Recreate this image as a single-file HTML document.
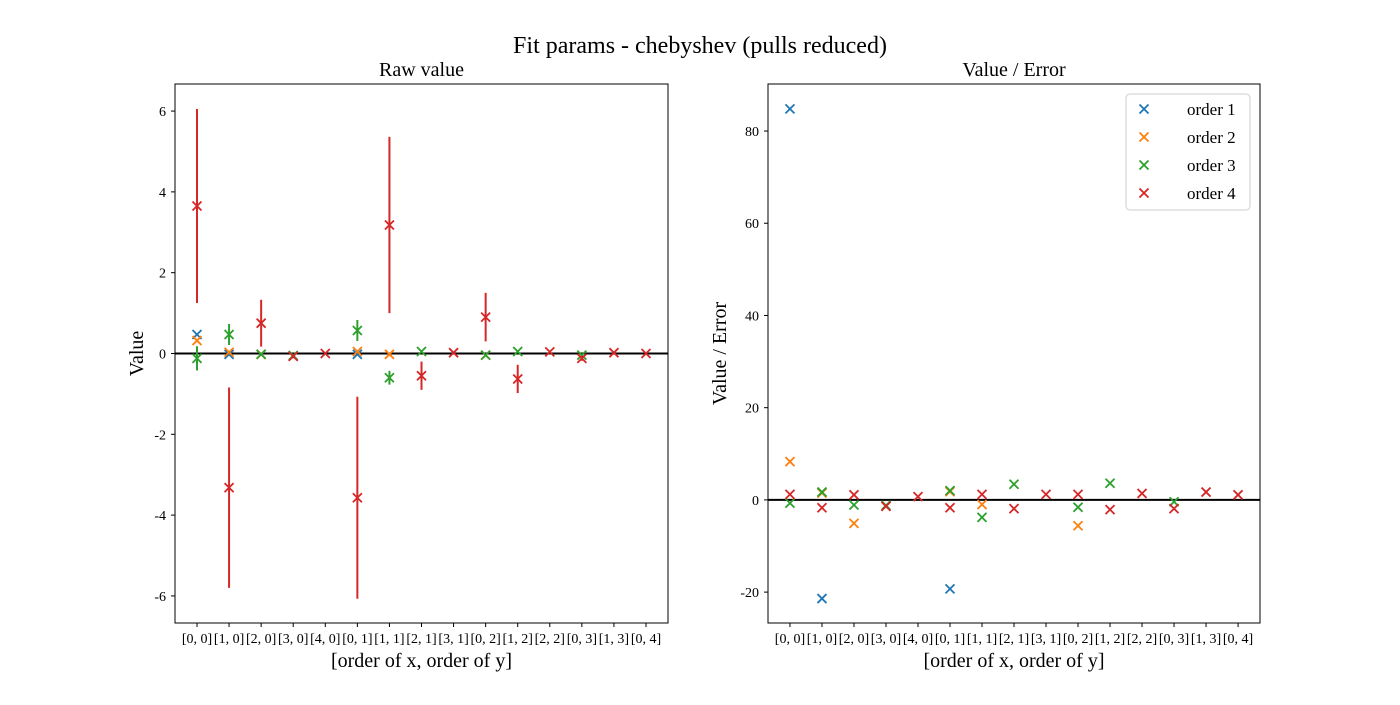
<!DOCTYPE html>
<html><head><meta charset="utf-8"><style>
body{margin:0;background:#fff}
svg text{font-family:"Liberation Serif",serif;fill:#000}
</style></head><body>
<svg id="c" width="1400" height="700" xmlns="http://www.w3.org/2000/svg">
<text x="700" y="53" font-size="24" text-anchor="middle">Fit params - chebyshev (pulls reduced)</text>
</svg>
<script>
const categories=["[0, 0]","[1, 0]","[2, 0]","[3, 0]","[4, 0]","[0, 1]","[1, 1]","[2, 1]","[3, 1]","[0, 2]","[1, 2]","[2, 2]","[0, 3]","[1, 3]","[0, 4]"];
const seriesNames=["order 1","order 2","order 3","order 4"];
const colors=["#1f77b4","#ff7f0e","#2ca02c","#d62728"];
const idx1=[0,1,5];
const idx2=[0,1,2,5,6,9];
const idx3=[0,1,2,3,5,6,7,9,10,12];
const idx4=[0,1,2,3,4,5,6,7,8,9,10,11,12,13,14];
const raw1=[0.47,-0.02,-0.02];
const err1=[0.01,0.01,0.01];
const raw2=[0.32,0.03,-0.02,0.05,-0.02,-0.04];
const err2=[0.04,0.02,0.01,0.02,0.01,0.01];
const raw3=[-0.12,0.47,-0.02,-0.05,0.57,-0.6,0.05,-0.04,0.05,-0.04];
const err3=[0.3,0.26,0.02,0.03,0.26,0.17,0.02,0.03,0.02,0.03];
const raw4=[3.65,-3.32,0.75,-0.07,0.0,-3.57,3.18,-0.55,0.02,0.9,-0.63,0.04,-0.12,0.02,0.0];
const err4=[2.4,2.48,0.58,0.05,0.02,2.5,2.18,0.35,0.02,0.6,0.35,0.03,0.06,0.01,0.01];
const pull1=[84.8,-21.4,-19.3];
const pull2=[8.3,1.5,-5.1,1.8,-1.0,-5.6];
const pull3=[-0.7,1.7,-1.1,-1.2,2.0,-3.8,3.4,-1.6,3.6,-0.4];
const pull4=[1.2,-1.7,1.1,-1.4,0.7,-1.7,1.2,-1.9,1.2,1.2,-2.1,1.4,-1.9,1.7,1.1];
const leftTicks=[6,4,2,0,-2,-4,-6];
const rightTicks=[80,60,40,20,0,-20];

const NS="http://www.w3.org/2000/svg";
const svg=document.getElementById("c");
function el(t,a,p){const e=document.createElementNS(NS,t);for(const k in a)e.setAttribute(k,a[k]);(p||svg).appendChild(e);return e;}
const idxs=[idx1,idx2,idx3,idx4],raws=[raw1,raw2,raw3,raw4],errs=[err1,err2,err3,err4],pulls=[pull1,pull2,pull3,pull4];

function panel(x0,x1,y0,y1,ymin,ymax,ticks,title,ylabel,vals,errsArr,name){
  const g=el("g",{});
  
  
  const xs=i=>x0+(i+0.686)*(x1-x0)/(categories.length-1+1.372);
  const ys=v=>y1-(v-ymin)/(ymax-ymin)*(y1-y0);
  const z=el("line",{x1:x0,x2:x1,y1:ys(0),y2:ys(0),stroke:"#000","stroke-width":2},g);
  
  
  for(let s=0;s<4;s++){
    const sg=el("g",{stroke:colors[s],"stroke-width":1.8,fill:"none"},g);
    
    
    idxs[s].forEach((ci,k)=>{
      const cx=xs(ci),v=vals[s][k],cy=ys(v);
      if(errsArr){const e=errsArr[s][k];
        const l=el("line",{x1:cx,x2:cx,y1:ys(v+e),y2:ys(v-e),"stroke-width":2},sg);
        
        }
      const m=el("path",{d:`M${cx-4.5},${cy-4.5}L${cx+4.5},${cy+4.5}M${cx-4.5},${cy+4.5}L${cx+4.5},${cy-4.5}`},sg);
      
      
    });
  }
  el("rect",{x:x0,y:y0,width:x1-x0,height:y1-y0,fill:"none",stroke:"#000","stroke-width":1},g);
  ticks.forEach(t=>{const y=ys(t);
    el("line",{x1:x0-4,x2:x0,y1:y,y2:y,stroke:"#000"},g);
    const tx=el("text",{x:x0-9,y:y+5,"font-size":14,"text-anchor":"end"},g);tx.textContent=String(t);
    
    });
  categories.forEach((c,i)=>{const x=xs(i);
    el("line",{x1:x,x2:x,y1:y1,y2:y1+4,stroke:"#000"},g);
    const tx=el("text",{x:x,y:y1+20,"font-size":14,"text-anchor":"middle"},g);tx.textContent=c;
    
    });
  const tt=el("text",{x:(x0+x1)/2,y:y0-8,"font-size":20,"text-anchor":"middle"},g);tt.textContent=title;
  
  
  const xl=el("text",{x:(x0+x1)/2,y:y1+44,"font-size":20,"text-anchor":"middle"},g);xl.textContent="[order of x, order of y]";
  
  
  const yc=(y0+y1)/2,yx=ylabel==="Value"?x0-32:x0-42;
  const yl=el("text",{x:yx,y:yc,"font-size":20,"text-anchor":"middle",transform:`rotate(-90 ${yx} ${yc})`},g);yl.textContent=ylabel;
  
  
}
panel(175,668,84,623,-6.67,6.67,leftTicks,"Raw value","Value",raws,errs,"raw-value-panel");
panel(768,1260,84,623,-26.7,90.2,rightTicks,"Value / Error","Value / Error",pulls,null,"pull-panel");
const lg=el("g",{});


el("rect",{x:1126,y:94,width:124,height:116,rx:4,fill:"#fff",stroke:"#ccc"},lg);
seriesNames.forEach((n,i)=>{const y=109+i*28,x=1144;
  const e=el("g",{},lg);
  
  
  el("path",{d:`M${x-4.5},${y-4.5}L${x+4.5},${y+4.5}M${x-4.5},${y+4.5}L${x+4.5},${y-4.5}`,stroke:colors[i],"stroke-width":1.8},e);
  const t=el("text",{x:1187,y:y+6,"font-size":17},e);t.textContent=n;});
</script>
</body></html>
